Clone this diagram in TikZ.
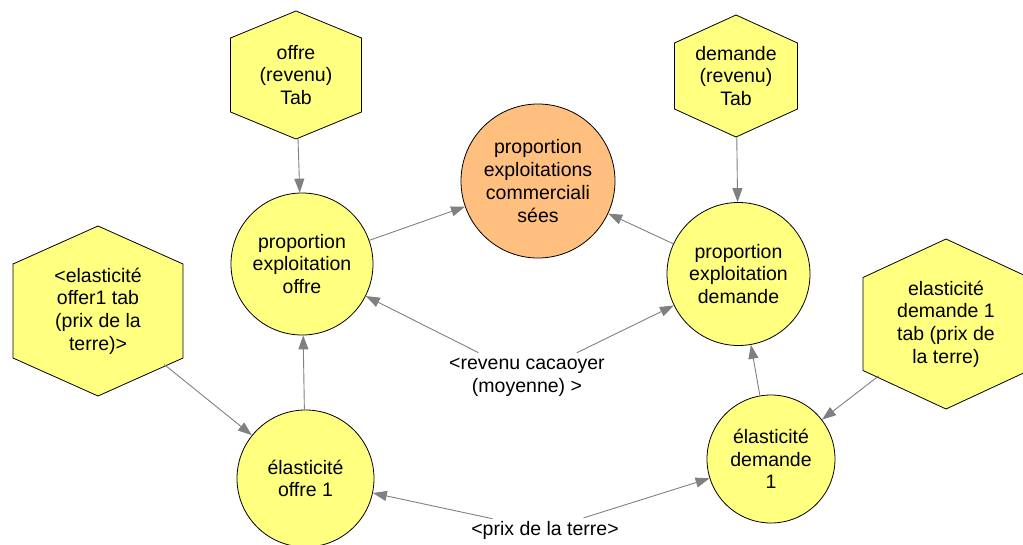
\documentclass[tikz,border=0pt]{standalone}
\usepackage{fontspec}
\setmainfont{Liberation Sans}
\usetikzlibrary{arrows.meta,backgrounds,shapes.geometric}

\definecolor{nodeyellow}{HTML}{FFFF80}
\definecolor{nodeorange}{HTML}{FFBF7F}
\definecolor{linkgray}{HTML}{808080}

% hexagon with pointed top and bottom drawn around a node centre:
% #1 node name, #2 half width, #3 shoulder height, #4 tip height
\newcommand\hexaround[4]{%
  \path[hexbody] ([yshift=#4]#1.center) -- ([xshift=#2,yshift=#3]#1.center)
    -- ([xshift=#2,yshift=-#3]#1.center) -- ([yshift=-#4]#1.center)
    -- ([xshift=-#2,yshift=-#3]#1.center) -- ([xshift=-#2,yshift=#3]#1.center) -- cycle;}

\tikzset{
  base/.style={font=\fontsize{19.5}{22.7}\selectfont, align=center, inner sep=0pt},
  varcircle/.style={base, circle, draw=black, line width=0.8pt, fill=nodeyellow, minimum size=#1},
  goalcircle/.style={varcircle=#1, fill=nodeorange},
  hexnode/.style={base, circle, minimum size=#1},
  hexbody/.style={fill=nodeyellow, draw=black, line width=0.8pt},
  auxtext/.style={base, ellipse},
  link/.style={draw=linkgray, line width=0.9pt, -{Triangle[length=14pt,width=10pt]}},
}

\begin{document}
\begin{tikzpicture}[x=1pt, y=-1pt]
\useasboundingbox (0,0) rectangle (1023,544);

% lookup tables
\node[hexnode=128pt] (oh) at (296,75) {offre\\(revenu)\\Tab};
\node[hexnode=122pt] (dh) at (736,76) {demande\\(revenu)\\Tab};
\node[hexnode=170pt] (lh) at (98,311) {<elasticité\\offer1 tab\\(prix de la\\terre)>};
\node[hexnode=170pt] (rh) at (946,324) {elasticité\\demande 1\\tab (prix de\\la terre)};

% variables
\node[goalcircle=154pt] (pc) at (538,181) {proportion\\exploitations\\commerciali\\sées};
\node[varcircle=142pt] (po) at (302,264) {proportion\\exploitation\\offre};
\node[varcircle=143pt] (pd) at (738.5,274) {proportion\\exploitation\\demande};
\node[varcircle=137pt] (eo) at (305.5,478.5) {élasticité\\offre 1};
\node[varcircle=128pt] (ed) at (771,459) {élasticité\\demande\\1};

% inputs
\node[auxtext] (rev) at (527,377) {<revenu cacaoyer\\(moyenne) >};
\node[auxtext] (prix) at (545,530) {<prix de la terre>};

\begin{scope}[on background layer]
  \hexaround{oh}{65.5pt}{37pt}{64pt}
  \hexaround{dh}{61.5pt}{33pt}{61pt}
  \hexaround{lh}{85pt}{47pt}{85pt}
  \hexaround{rh}{83pt}{46.5pt}{85pt}
\end{scope}

% links
\draw[link] (oh) -- (po);
\draw[link] (dh) -- (pd);
\draw[link] (po) -- (pc);
\draw[link] (pd) -- (pc);
\draw[link] (rev) -- (po);
\draw[link] (rev) -- (pd);
\draw[link] (eo) -- (po);
\draw[link] (ed) -- (pd);
\draw[link] (lh) -- (eo);
\draw[link] (rh) -- (ed);
\draw[link] (prix) -- (eo);
\draw[link] (prix) -- (ed);
\end{tikzpicture}
\end{document}
